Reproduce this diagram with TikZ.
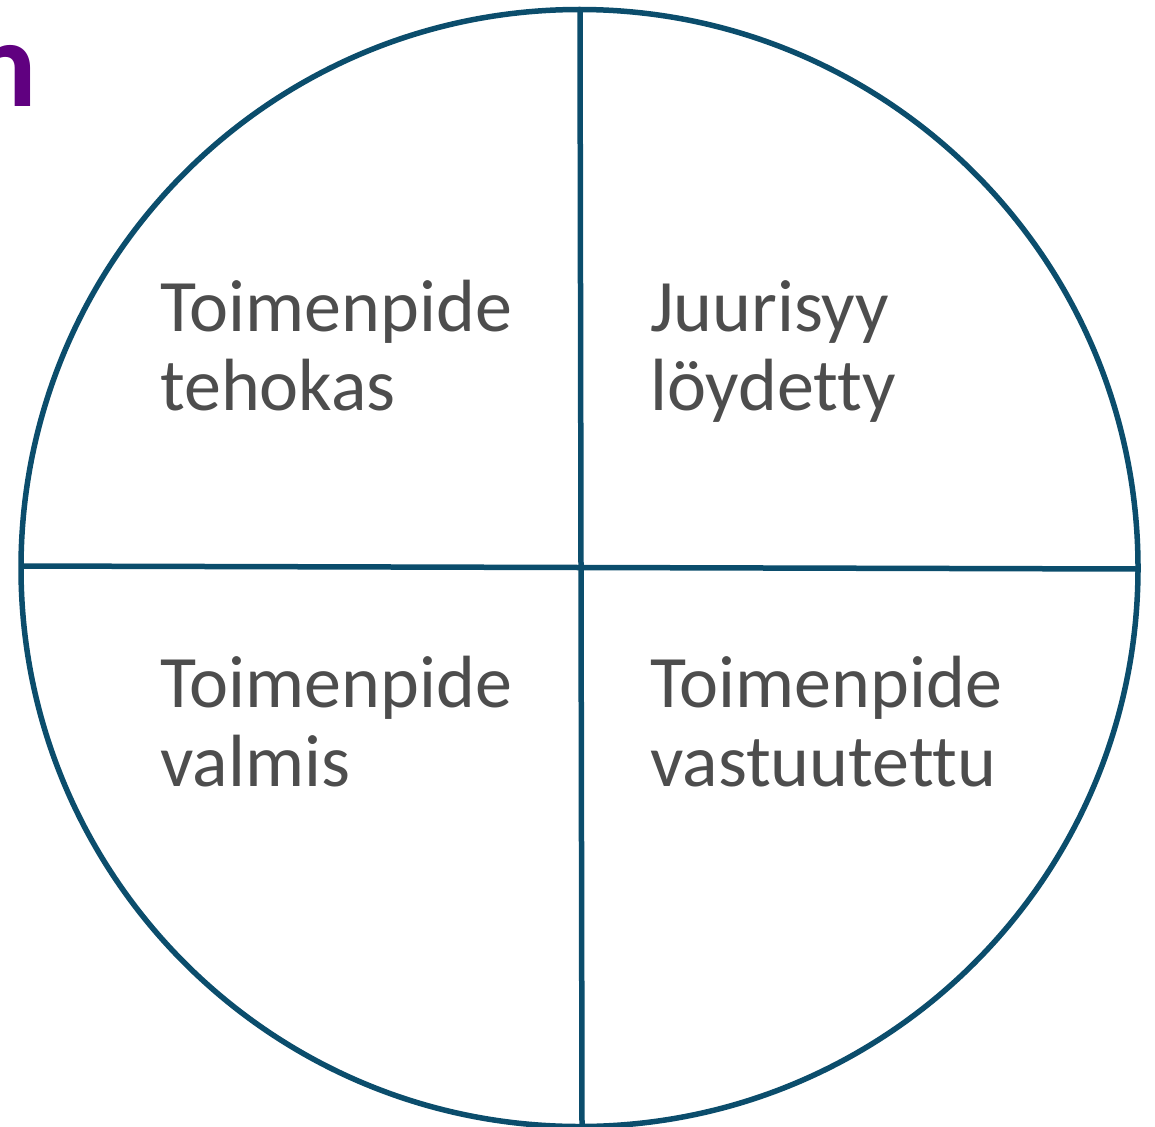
\documentclass[tikz,border=0pt]{standalone}
\usepackage{fontspec}
\setmainfont{Carlito}[Ligatures=NoCommon]
\definecolor{ring}{HTML}{0B4D6C}
\definecolor{txt}{HTML}{4D4D4D}
\definecolor{purp}{HTML}{600080}
\begin{document}
\begin{tikzpicture}[x=1pt,y=1pt,
  lab/.style={inner sep=0pt, anchor=base west, align=left, text=txt,
    font=\fontsize{74}{79}\selectfont},
  ringline/.style={draw=ring, line width=5.5pt}]
\useasboundingbox (0,0) rectangle (1155,-1126);
\node[inner sep=0pt, anchor=base east, text=purp, font=\fontsize{124}{130}\bfseries\selectfont] (nn) at (37,-107) {n};
\node[ringline, circle, minimum size=1117pt, inner sep=0pt] (c) at (579.5,-568) {};
\coordinate (hl) at (21,-566);
\coordinate (hr) at (1138,-569);
\coordinate (vt) at (580,-10);
\coordinate (vb) at (582,-1126);
\draw[ringline] (hl) -- (hr);
\draw[ringline] (vt) -- (vb);
\node[lab] (t1) at (160,-410) {Toimenpide\\tehokas};
\node[lab] (t2) at (650,-410) {Juurisyy\\löydetty};
\node[lab] (t3) at (160,-786) {Toimenpide\\valmis};
\node[lab] (t4) at (650,-786) {Toimenpide\\vastuutettu};
\end{tikzpicture}
\end{document}
